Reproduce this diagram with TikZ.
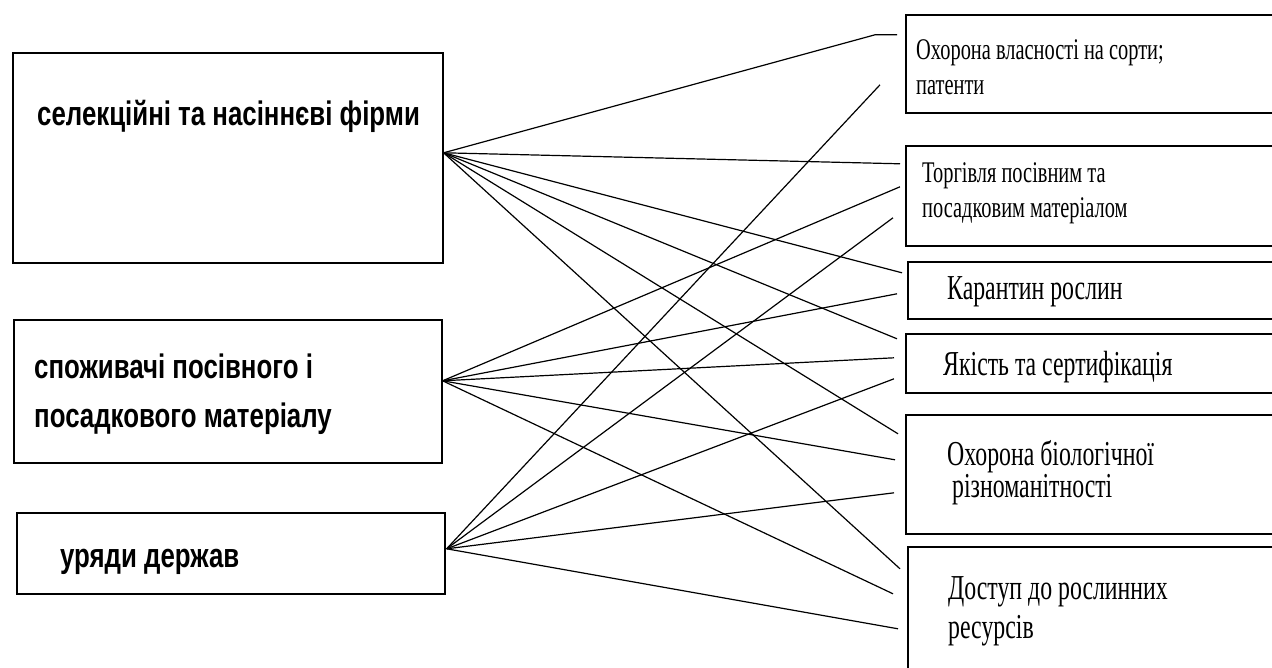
\documentclass[tikz,border=0pt]{standalone}
\usepackage{fontspec}
\newfontfamily\actorfont[FakeStretch=0.76]{Liberation Sans}
\newfontfamily\issuefont[FakeStretch=0.68]{Liberation Serif}
\tikzstyle{actor} = [draw=black, line width=1.6pt, anchor=north west, inner sep=0pt]
\tikzstyle{issue} = [actor, minimum width=400pt]
\tikzstyle{actortxt} = [anchor=base west, inner sep=0pt, align=left, font={\actorfont\bfseries\fontsize{34}{49}\selectfont}]
\tikzstyle{issuetxt} = [anchor=base west, inner sep=0pt, align=left, font={\issuefont\fontsize{35}{29}\selectfont}]
\tikzstyle{smalltxt} = [issuetxt, font={\issuefont\fontsize{30}{35}\selectfont}]
\tikzstyle{link} = [line width=1.2pt]

\begin{document}
\begin{tikzpicture}[x=1pt,y=-1pt]
    \useasboundingbox (0,0) rectangle (1272,668);
    \clip (0,0) rectangle (1272,668);
    % left: who is involved
    \node[actor, minimum width=430pt, minimum height=210pt](firms) at (12,52){};
    \node[actor, minimum width=428pt, minimum height=143pt](buyers) at (13,319){};
    \node[actor, minimum width=428pt, minimum height=81pt](govs) at (16,512){};
    \node[actortxt](firmstxt) at (37,126){селекційні та насіннєві фірми};
    \node[actortxt](buyerstxt) at (34,427){споживачі посівного і\\посадкового матеріалу};
    \node[actortxt](govstxt) at (60,567){уряди держав};
    % right: issues
    \node[issue, minimum height=98pt](rights) at (905,14){};
    \node[issue, minimum height=100pt](trade) at (905,145){};
    \node[issue, minimum height=57pt](quar) at (907,261){};
    \node[issue, minimum height=59pt](qual) at (905,333){};
    \node[issue, minimum height=119pt](biodiv) at (905,414){};
    \node[issue, minimum height=130pt](access) at (907,546){};
    \node[smalltxt](rightstxt) at (916,95){Охорона власності на сорти;\\патенти};
    \node[smalltxt](tradetxt) at (922,218){Торгівля посівним та\\посадковим матеріалом};
    \node[issuetxt](quartxt) at (947,300){Карантин рослин};
    \node[issuetxt](qualtxt) at (943,375){Якість та сертифікація};
    \node[issuetxt](biodivtxt) at (947,497){Охорона біологічної\\\hspace*{5pt}різноманітності};
    \node[issuetxt, font={\issuefont\fontsize{35}{39}\selectfont}](accesstxt) at (948,638){Доступ до рослинних\\ресурсів};
    % links
    \draw[link]([yshift=5pt]firms.east)--([xshift=-30pt,yshift=29pt]rights.west)--([xshift=-8pt,yshift=29pt]rights.west);
    \draw[link]([yshift=5pt]firms.east)--([xshift=-5pt,yshift=32pt]trade.west);
    \draw[link]([yshift=5pt]firms.east)--([xshift=-5pt,yshift=17.5pt]quar.west);
    \draw[link]([yshift=5pt]firms.east)--([xshift=-8pt,yshift=24.5pt]qual.west);
    \draw[link]([yshift=5pt]firms.east)--([xshift=-7pt,yshift=40.5pt]biodiv.west);
    \draw[link]([yshift=5pt]firms.east)--([xshift=-7pt,yshift=43pt]access.west);
    \draw[link]([yshift=10.5pt]buyers.east)--([xshift=-5pt,yshift=9pt]trade.west);
    \draw[link]([yshift=10.5pt]buyers.east)--([xshift=-10pt,yshift=-3.5pt]quar.west);
    \draw[link]([yshift=10.5pt]buyers.east)--([xshift=-11pt,yshift=5.5pt]qual.west);
    \draw[link]([yshift=10.5pt]buyers.east)--([xshift=-10pt,yshift=14.5pt]biodiv.west);
    \draw[link]([yshift=10.5pt]buyers.east)--([xshift=-14pt,yshift=18pt]access.west);
    \draw[link]([xshift=1pt,yshift=4.5pt]govs.east)--([xshift=-25pt,yshift=-21pt]rights.west);
    \draw[link]([xshift=1pt,yshift=4.5pt]govs.east)--([xshift=-12pt,yshift=-22pt]trade.west);
    \draw[link]([xshift=1pt,yshift=4.5pt]govs.east)--([xshift=-11pt,yshift=-15.5pt]qual.west);
    \draw[link]([xshift=1pt,yshift=4.5pt]govs.east)--([xshift=-11pt,yshift=-18.5pt]biodiv.west);
    \draw[link]([xshift=1pt,yshift=4.5pt]govs.east)--([xshift=-9pt,yshift=-17pt]access.west);
\end{tikzpicture}
\end{document}
